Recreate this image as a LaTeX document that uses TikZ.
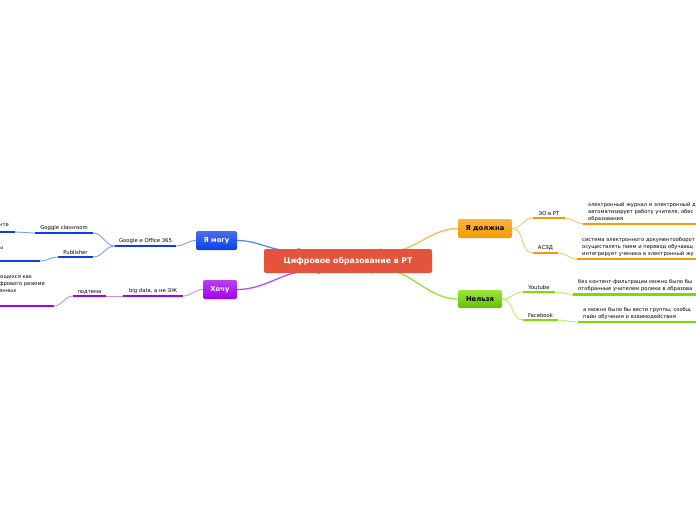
\documentclass[tikz,border=0pt]{standalone}
\usepackage{fontspec}
\setmainfont{DejaVu Sans}
\usetikzlibrary{backgrounds}
\definecolor{cenred}{HTML}{E4533B}
\definecolor{mblue}{HTML}{0A3FE8}
\definecolor{lblue}{HTML}{7F9FF5}
\definecolor{mpurple}{HTML}{A200F0}
\definecolor{lpurple}{HTML}{CC8CF8}
\definecolor{morange}{HTML}{F59A00}
\definecolor{lorange}{HTML}{F9C56A}
\definecolor{mgreen}{HTML}{78E000}
\definecolor{lgreen}{HTML}{B4F06A}
\begin{document}
\begin{tikzpicture}[
  x=1pt, y=-1pt,
  topic/.style={rounded corners=2pt, font=\fontsize{6.8}{7}\selectfont\bfseries, inner sep=0pt, minimum height=19pt},
  branch/.style={anchor=south, font=\fontsize{5.3}{6}\selectfont, inner xsep=0pt, inner ysep=2pt},
  leaf/.style={font=\fontsize{5.2}{7}\selectfont, align=left, inner xsep=5pt, inner ysep=2.5pt},
  uline/.style={line width=2.4pt},
  thin/.style={line width=0.9pt},
  main/.style={line width=1.3pt}
]
\useasboundingbox (0,0) rectangle (696,520);
\clip (0,0) rectangle (696,520);

% central and main topics
\node[topic, minimum width=168pt, minimum height=24pt, fill=cenred, text=white, font=\fontsize{7.8}{8}\selectfont\bfseries] (cen) at (348,261) {Цифровое образование в РТ};
\node[topic, minimum width=41pt, top color=mblue!75!white, bottom color=mblue, text=white] (mogu) at (216.5,240.5) {Я могу};
\node[topic, minimum width=34pt, top color=mpurple!75!white, bottom color=mpurple, text=white] (hochu) at (220,289.5) {Хочу};
\node[topic, minimum width=54pt, top color=morange!75!white, bottom color=morange] (dolzhna) at (485,228.5) {Я должна};
\node[topic, minimum width=44pt, minimum height=18pt, top color=mgreen!75!white, bottom color=mgreen!85!black] (nelzya) at (480,299) {Нельзя};

% Я могу
\node[branch, minimum width=61pt] (google) at (145.5,246) {Google и Office 365};
\node[branch, minimum width=58pt] (gclass) at (64,233) {Goggle classroom};
\node[branch, minimum width=35pt] (publ) at (75.5,257) {Publisher};
\node[leaf, anchor=south east, text width=40pt, inner xsep=0pt] (gclasst) at (15,232) {};
\node[font=\fontsize{5.2}{6}\selectfont, anchor=west, inner sep=0pt] (gclasstt) at (-1,225.5) {нте};
\node[leaf, anchor=south east, text width=60pt, inner xsep=0pt] (publt) at (40,261) {};
\node[font=\fontsize{5.2}{6}\selectfont, anchor=west, inner sep=0pt] (publtt) at (-1,248) {ы};

% Хочу
\node[branch, minimum width=60pt] (bigdata) at (153,296) {big data, а не ЭЖ};
\node[branch, minimum width=33pt] (podtema) at (89.5,296) {подтема};
\node[leaf, anchor=south east, text width=60pt, inner xsep=0pt] (podt) at (54,306) {};
\node[font=\fontsize{5.2}{7}\selectfont, align=left, anchor=north west, inner sep=0pt] (podtt) at (-1,275) {ющихся как\\фрового резюме\\енных};

% Я должна
\node[branch, minimum width=32pt] (eo) at (549,218) {ЭО в РТ};
\node[branch, minimum width=25pt] (asad) at (545.5,253) {АСЭД};
\node[leaf, anchor=south west, text width=140pt] (eot) at (583,224) {электронный журнал и электронный д\\автоматизирует работу учителя, обес\\образования};
\node[leaf, anchor=south west, text width=140pt] (asadt) at (577,259) {система электронного документооборот\\осуществлять пием и перевод обучающ\\интегрирует ученика в электронный жу};

% Нельзя
\node[branch, minimum width=32pt] (yt) at (539,292) {Youtube};
\node[branch, minimum width=35pt] (fb) at (540.5,320) {Facebook};
\node[leaf, anchor=south west, text width=140pt] (ytt) at (573,294.5) {без контент-фильтрации можно было бы\\отобранные учителем ролики в образова};
\node[leaf, anchor=south west, text width=140pt] (fbt) at (578,322) {а можно было бы вести группы, сообщ\\пайн обучения и взаимодействия};

% connectors (behind the nodes)
\begin{pgfonlayer}{background}
\draw[main, mblue!65!white] (mogu.east) to[out=0,in=195] ([xshift=-48pt]cen.north);
\draw[main, mpurple!70!white] (hochu.east) to[out=0,in=165] ([xshift=-28pt]cen.south);
\draw[main, morange!70!white] ([xshift=32pt]cen.north) to[out=-20,in=180] (dolzhna.west);
\draw[main, mgreen!80!white] ([xshift=24pt]cen.south) to[out=25,in=180] (nelzya.west);
\end{pgfonlayer}
\draw[thin, lblue] (google.south east) to[out=0,in=180] (mogu.west);
\draw[thin, lblue] (gclass.south east) to[out=0,in=180] (google.south west);
\draw[thin, lblue] (publ.south east) to[out=0,in=180] (google.south west);
\draw[thin, lblue] (gclasst.south east) -- (gclass.south west);
\draw[thin, lblue] (publt.south east) to[out=0,in=180] (publ.south west);
\draw[thin, lpurple] (bigdata.south east) to[out=0,in=180] (hochu.west);
\draw[thin, lpurple] (podtema.south east) -- (bigdata.south west);
\draw[thin, lpurple] (podt.south east) to[out=0,in=180] (podtema.south west);
\draw[thin, lorange] (dolzhna.east) to[out=0,in=180] (eo.south west);
\draw[thin, lorange] (dolzhna.east) to[out=0,in=180] (asad.south west);
\draw[thin, lorange] (eo.south east) to[out=0,in=180] (eot.south west);
\draw[thin, lorange] (asad.south east) to[out=0,in=180] (asadt.south west);
\draw[thin, lgreen] (nelzya.east) to[out=0,in=180] (yt.south west);
\draw[thin, lgreen] (nelzya.east) to[out=0,in=180] (fb.south west);
\draw[thin, lgreen] (yt.south east) to[out=0,in=180] (ytt.south west);
\draw[thin, lgreen] (fb.south east) to[out=0,in=180] (fbt.south west);

% underlines
\draw[uline, mblue] (google.south west) -- (google.south east);
\draw[uline, mblue] (gclass.south west) -- (gclass.south east);
\draw[uline, mblue] (publ.south west) -- (publ.south east);
\draw[uline, mblue] (gclasst.south west) -- (gclasst.south east);
\draw[uline, mblue] (publt.south west) -- (publt.south east);
\draw[uline, mpurple] (bigdata.south west) -- (bigdata.south east);
\draw[uline, mpurple] (podtema.south west) -- (podtema.south east);
\draw[uline, mpurple] (podt.south west) -- (podt.south east);
\draw[uline, morange] (eo.south west) -- (eo.south east);
\draw[uline, morange] (asad.south west) -- (asad.south east);
\draw[uline, morange] (eot.south west) -- (eot.south east);
\draw[uline, morange] (asadt.south west) -- (asadt.south east);
\draw[uline, mgreen] (yt.south west) -- (yt.south east);
\draw[uline, mgreen] (fb.south west) -- (fb.south east);
\draw[uline, mgreen] (ytt.south west) -- (ytt.south east);
\draw[uline, mgreen] (fbt.south west) -- (fbt.south east);
\end{tikzpicture}
\end{document}
